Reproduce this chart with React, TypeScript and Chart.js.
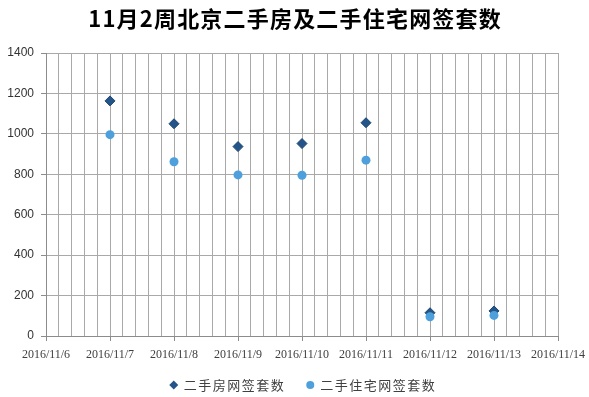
import React, { useEffect, useRef } from 'react';
import { Chart, registerables } from 'chart.js';

Chart.register(...registerables);

const TITLE = '11月2周北京二手房及二手住宅网签套数';
const AXIS_DATES = [
  '2016/11/6', '2016/11/7', '2016/11/8', '2016/11/9', '2016/11/10',
  '2016/11/11', '2016/11/12', '2016/11/13', '2016/11/14',
];
const POINT_DATES = [
  '2016/11/7', '2016/11/8', '2016/11/9', '2016/11/10',
  '2016/11/11', '2016/11/12', '2016/11/13',
];
const HOUSE_LABEL = '二手房网签套数';
const HOUSE_VALUES = [1163, 1050, 937, 952, 1055, 115, 124];
const RESI_LABEL = '二手住宅网签套数';
const RESI_VALUES = [996, 862, 797, 795, 870, 95, 102];
const Y_MIN = 0;
const Y_MAX = 1400;
const Y_STEP = 200;
const X_MINOR_STEP = 0.2;

const CJK = '"Noto Sans CJK SC", "Noto Sans", sans-serif';
const GRID = '#a9a9a9';
const AXIS = '#8c8c8c';

const isInt = (v: number) => Math.abs(v - Math.round(v)) < 1e-6;

const titlePlugin = {
  id: 'spacedTitle',
  afterDraw(chart: any) {
    const ctx = chart.ctx as CanvasRenderingContext2D;
    ctx.save();
    ctx.font = `bold 22px ${CJK}`;
    (ctx as any).letterSpacing = '1.2px';
    ctx.fillStyle = '#000000';
    ctx.textAlign = 'center';
    ctx.textBaseline = 'middle';
    ctx.fillText(TITLE, chart.width / 2 + 0.6, 19);
    ctx.restore();
  },
};

const legendPlugin = {
  id: 'customLegend',
  afterDraw(chart: any) {
    const ctx = chart.ctx as CanvasRenderingContext2D;
    ctx.save();
    ctx.font = `13px ${CJK}`;
    (ctx as any).letterSpacing = '1.5px';
    const items = chart.data.datasets.map((ds: any) => ({
      label: ds.label as string,
      fill: ds.backgroundColor as string,
      style: ds.pointStyle as string,
    }));
    const markerW = 10;
    const gapMarkerText = 5;
    const gapItems = 20;
    const widths = items.map((it: any) => ctx.measureText(it.label).width);
    const total =
      widths.reduce((a: number, b: number) => a + b, 0) +
      items.length * (markerW + gapMarkerText) +
      (items.length - 1) * gapItems;
    let x = chart.width / 2 + 8 - total / 2;
    const y = 385;
    items.forEach((it: any, i: number) => {
      const cx = x + markerW / 2;
      ctx.beginPath();
      if (it.style === 'rectRot') {
        const r = 4.5;
        ctx.moveTo(cx, y - r);
        ctx.lineTo(cx + r, y);
        ctx.lineTo(cx, y + r);
        ctx.lineTo(cx - r, y);
        ctx.closePath();
      } else {
        ctx.arc(cx, y, 4, 0, Math.PI * 2);
      }
      ctx.fillStyle = it.fill;
      ctx.fill();
      ctx.fillStyle = '#404040';
      ctx.textAlign = 'left';
      ctx.textBaseline = 'middle';
      ctx.fillText(it.label, x + markerW + gapMarkerText, y);
      x += markerW + gapMarkerText + widths[i] + gapItems;
    });
    ctx.restore();
  },
};

export default function App() {
  const ref = useRef<HTMLCanvasElement | null>(null);

  useEffect(() => {
    if (!ref.current) return;
    const toPoints = (vals: number[]) =>
      POINT_DATES.map((d, i) => ({ x: AXIS_DATES.indexOf(d), y: vals[i] }));

    const chart = new Chart(ref.current, {
      type: 'scatter',
      data: {
        datasets: [
          {
            label: HOUSE_LABEL,
            data: toPoints(HOUSE_VALUES),
            pointStyle: 'rectRot',
            pointRadius: 5,
            backgroundColor: '#24558a',
            borderColor: '#1d4670',
            borderWidth: 1,
            order: 1,
          },
          {
            label: RESI_LABEL,
            data: toPoints(RESI_VALUES),
            pointStyle: 'circle',
            pointRadius: 4.5,
            backgroundColor: '#4ea0dc',
            borderColor: '#4ea0dc',
            borderWidth: 0,
            order: 0,
          },
        ],
      },
      options: {
        responsive: false,
        animation: false,
        layout: { padding: { left: 0, right: 31, top: 53, bottom: 0 } },
        plugins: {
          legend: { display: false },
          title: { display: false },
          tooltip: { enabled: false },
        },
        scales: {
          x: {
            type: 'linear',
            min: 0,
            max: AXIS_DATES.length - 1,
            afterFit(s: any) {
              s.height = 61;
              s.paddingLeft = 0;
              s.paddingRight = 0;
            },
            ticks: {
              stepSize: X_MINOR_STEP,
              autoSkip: false,
              maxRotation: 0,
              minRotation: 0,
              padding: 7,
              color: '#404040',
              font: { family: '"Liberation Serif", serif', size: 12 },
              callback: (v: any) => {
                const n = Number(v);
                return isInt(n) ? AXIS_DATES[Math.round(n)] ?? '' : '';
              },
            },
            grid: {
              color: GRID,
              lineWidth: 1,
              tickLength: 5,
              tickColor: (c: any) =>
                c.tick && isInt(c.tick.value) ? AXIS : 'rgba(0,0,0,0)',
            },
            border: { color: AXIS },
          },
          y: {
            min: Y_MIN,
            max: Y_MAX,
            afterFit(s: any) {
              s.width = 46;
              s.paddingTop = 0;
              s.paddingBottom = 0;
            },
            ticks: {
              stepSize: Y_STEP,
              padding: 7,
              color: '#333333',
              font: { family: '"Liberation Sans", Arial, sans-serif', size: 12 },
              callback: (v: any) => String(Math.round(Number(v))),
            },
            grid: { color: GRID, lineWidth: 1, tickLength: 5, tickColor: AXIS },
            border: { color: AXIS },
          },
        },
      },
      plugins: [titlePlugin, legendPlugin],
    });
    return () => chart.destroy();
  }, []);

  return (
    <div style={{ position: 'absolute', left: 0, top: 0, width: 589, height: 397, background: '#fff' }}>
      <canvas ref={ref} width={589} height={397} />
    </div>
  );
}
